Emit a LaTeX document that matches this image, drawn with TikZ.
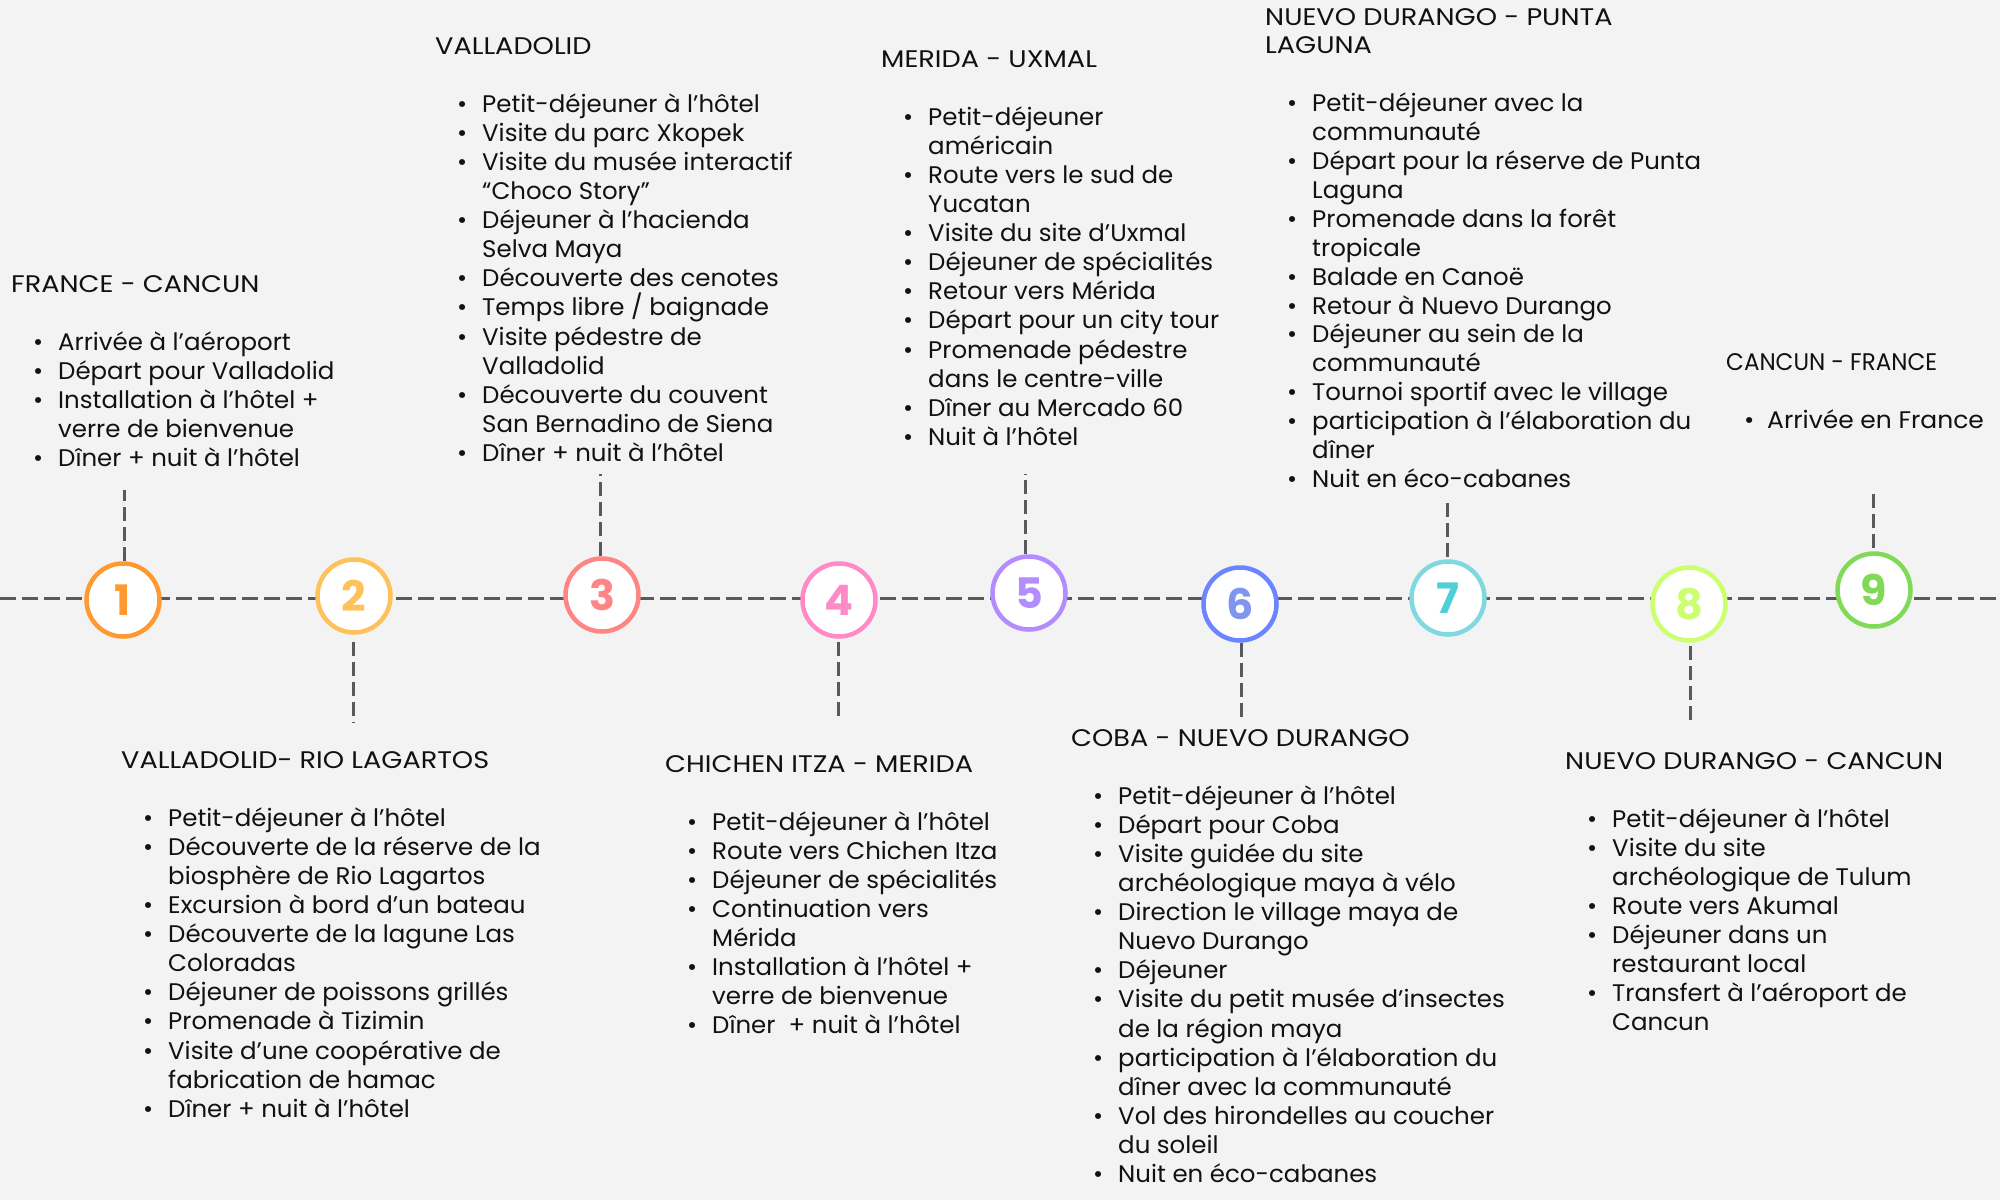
\documentclass[tikz,border=0pt]{standalone}
\usepackage{fontspec}
\setmainfont[FakeStretch=1.02]{Poppins}
\newfontfamily\headfont[FakeStretch=1.13]{Poppins}
\newfontfamily\headnarrow[FakeStretch=0.96]{Poppins}
\newfontfamily\bodywide[FakeStretch=1.04]{Poppins}
\definecolor{bg}{HTML}{F3F3F3}
\definecolor{lineg}{HTML}{595959}
\definecolor{ink}{HTML}{111111}
\definecolor{cA}{HTML}{FF9A33}
\definecolor{cB}{HTML}{FFC15A}
\definecolor{cC}{HTML}{FF8585}
\definecolor{cD}{HTML}{FF8AC8}
\definecolor{cE}{HTML}{B38CFF}
\definecolor{cFs}{HTML}{6B84FF}
\definecolor{cFt}{HTML}{8096EE}
\definecolor{cGs}{HTML}{80D9DE}
\definecolor{cGt}{HTML}{4FD0D6}
\definecolor{cH}{HTML}{CCFF70}
\definecolor{cI}{HTML}{80D957}
\newdimen\bind \bind=47pt
\newdimen\bpos \bpos=22pt
\newcommand\blk[1]{\vtop{\baselineskip=29.1pt\lineskiplimit=-100pt\lineskip=0pt #1}}
\newcommand\hd[1]{\hbox{\headfont #1}}
\newcommand\gp{\hbox{}}
\newcommand\bi[1]{\hbox{\hbox to \bind{\hskip\bpos\textbullet\hfil}#1}}
\newcommand\ct[1]{\hbox{\hskip\bind #1}}
\tikzset{
  stop/.style={circle, draw=#1, line width=4.5pt, fill=white, minimum size=73pt, inner sep=0pt, font=\fontsize{42}{42}\selectfont\bfseries},
  tl/.style={draw=lineg, line width=3pt, dash pattern=on 16pt off 6pt},
  vl/.style={draw=lineg, line width=3pt, dash pattern=on 14pt off 6pt},
  blocktext/.style={anchor=base west, inner sep=0pt, text=ink, font=\fontsize{24}{29.1}\selectfont},
}
\begin{document}
\begin{tikzpicture}[x=1pt,y=-1pt]
\fill[bg] (0,0) rectangle (2000,1200);
\useasboundingbox (0,0) rectangle (2000,1200);
\coordinate (L) at (0,598);
\coordinate (R) at (2000,598);
\draw[tl] (L) -- (R);
% stops
\node[stop=cA, text=cA] (s1) at (123,600) {1};
\node[stop=cB, text=cB] (s2) at (354,596) {2};
\node[stop=cC, text=cC] (s3) at (602,595) {3};
\node[stop=cD, text=cD] (s4) at (839,600) {4};
\node[stop=cE, text=cE] (s5) at (1029,593) {5};
\node[stop=cFs, text=cFt] (s6) at (1240,604) {6};
\node[stop=cGs, text=cGt] (s7) at (1448,598) {7};
\node[stop=cH, text=cH] (s8) at (1689,604) {8};
\node[stop=cI, text=cI] (s9) at (1874,590) {9};
% vertical connectors
\coordinate (v1) at (124,490);
\coordinate (v2) at (353,723);
\coordinate (v3) at (600,474);
\coordinate (v4) at (838,717);
\coordinate (v5) at (1025,474);
\coordinate (v6) at (1241,721);
\coordinate (v7) at (1447,502);
\coordinate (v8) at (1690,721);
\coordinate (v9) at (1873,493);
\draw[vl] (s1.north -| v1) -- (v1);
\draw[vl, shorten <=7pt] (s2.south -| v2) -- (v2);
\draw[vl] (s3.north -| v3) -- (v3);
\draw[vl, shorten <=3pt] (s4.south -| v4) -- (v4);
\draw[vl] (s5.north -| v5) -- (v5);
\draw[vl] (s6.south -| v6) -- (v6);
\draw[vl, shorten <=2pt] (s7.north -| v7) -- (v7);
\draw[vl, shorten <=3pt] (s8.south -| v8) -- (v8);
\draw[vl, shorten <=3pt] (s9.north -| v9) -- (v9);
% text blocks
\node[blocktext] (t1) at (11,292) {\blk{\hd{FRANCE - CANCUN}\gp
\bi{Arrivée à l’aéroport}\bi{Départ pour Valladolid}\bi{Installation à l’hôtel +}\ct{verre de bienvenue}\bi{Dîner + nuit à l’hôtel}}};
\node[blocktext] (t2) at (121,768) {\blk{\hd{VALLADOLID- RIO LAGARTOS}\gp
\bi{Petit-déjeuner à l’hôtel}\bi{Découverte de la réserve de la}\ct{biosphère de Rio Lagartos}\bi{Excursion à bord d’un bateau}\bi{Découverte de la lagune Las}\ct{Coloradas}\bi{Déjeuner de poissons grillés}\bi{Promenade à Tizimin}\bi{Visite d’une coopérative de}\ct{fabrication de hamac}\bi{Dîner + nuit à l’hôtel}}};
\node[blocktext] (t3) at (435,54) {\blk{\hd{VALLADOLID}\gp
\bi{Petit-déjeuner à l’hôtel}\bi{Visite du parc Xkopek}\bi{Visite du musée interactif}\ct{“Choco Story”}\bi{Déjeuner à l’hacienda}\ct{Selva Maya}\bi{Découverte des cenotes}\bi{Temps libre / baignade}\bi{Visite pédestre de}\ct{Valladolid}\bi{Découverte du couvent}\ct{San Bernadino de Siena}\bi{Dîner + nuit à l’hôtel}}};
\node[blocktext] (t4) at (665,772) {\blk{\hd{CHICHEN ITZA - MERIDA}\gp
\bi{Petit-déjeuner à l’hôtel}\bi{Route vers Chichen Itza}\bi{Déjeuner de spécialités}\bi{Continuation vers}\ct{Mérida}\bi{Installation à l’hôtel +}\ct{verre de bienvenue}\bi{Dîner\ \ + nuit à l’hôtel}}};
\node[blocktext] (t5) at (881,67) {\blk{\hd{MERIDA - UXMAL}\gp
\bi{Petit-déjeuner}\ct{américain}\bi{Route vers le sud de}\ct{Yucatan}\bi{Visite du site d’Uxmal}\bi{Déjeuner de spécialités}\bi{Retour vers Mérida}\bi{Départ pour un city tour}\bi{Promenade pédestre}\ct{dans le centre-ville}\bi{Dîner au Mercado 60}\bi{Nuit à l’hôtel}}};
\node[blocktext] (t6) at (1071,746) {\blk{\hd{COBA - NUEVO DURANGO}\gp
\bi{Petit-déjeuner à l’hôtel}\bi{Départ pour Coba}\bi{Visite guidée du site}\ct{archéologique maya à vélo}\bi{Direction le village maya de}\ct{Nuevo Durango}\bi{Déjeuner}\bi{Visite du petit musée d’insectes}\ct{de la région maya}\bi{participation à l’élaboration du}\ct{dîner avec la communauté}\bi{Vol des hirondelles au coucher}\ct{du soleil}\bi{Nuit en éco-cabanes}}};
\node[blocktext] (t7) at (1265,25) {\blk{\baselineskip=28.9pt\hd{NUEVO DURANGO - PUNTA}\hd{LAGUNA}\gp
\bi{Petit-déjeuner avec la}\ct{communauté}\bi{Départ pour la réserve de Punta}\ct{Laguna}\bi{Promenade dans la forêt}\ct{tropicale}\bi{Balade en Canoë}\bi{Retour à Nuevo Durango}\bi{Déjeuner au sein de la}\ct{communauté}\bi{Tournoi sportif avec le village}\bi{participation à l’élaboration du}\ct{dîner}\bi{Nuit en éco-cabanes}}};
\node[blocktext] (t8) at (1565,769) {\blk{\hd{NUEVO DURANGO - CANCUN}\gp
\bi{Petit-déjeuner à l’hôtel}\bi{Visite du site}\ct{archéologique de Tulum}\bi{Route vers Akumal}\bi{Déjeuner dans un}\ct{restaurant local}\bi{Transfert à l’aéroport de}\ct{Cancun}}};
\node[blocktext, font=\fontsize{24}{29.1}\bodywide] (t9) at (1726,370) {\bind=41pt\bpos=18pt\blk{\hbox{\headnarrow CANCUN - FRANCE}\gp
\bi{Arrivée en France}}};
\end{tikzpicture}
\end{document}
